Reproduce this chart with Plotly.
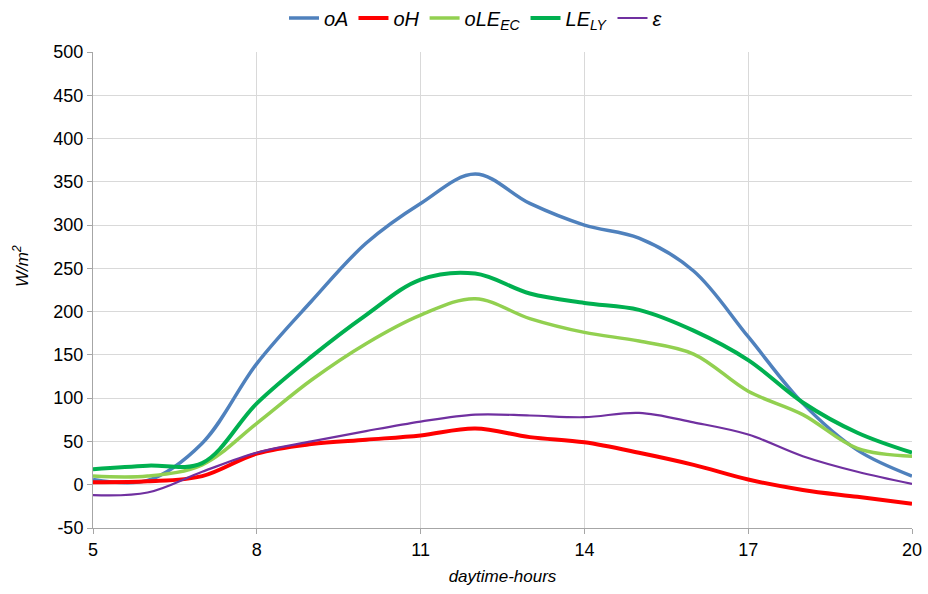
import plotly.graph_objects as go

hours = list(range(5, 21))
oA = [6, 5, 48, 140, 212, 279, 325, 359, 325, 300, 285, 247, 171, 94, 40, 10]
oH = [3, 4, 10, 36, 47, 52, 57, 65, 55, 49, 37, 23, 6, -6, -14, -22]
oLE_EC = [10, 10, 23, 71, 121, 163, 196, 215, 192, 176, 166, 151, 108, 81, 42, 33]
LE_LY = [18, 22, 25, 94, 148, 196, 237, 244, 221, 210, 202, 178, 144, 95, 60, 37]
eps = [-12, -9, 15, 37, 50, 62, 73, 81, 80, 78, 83, 72, 58, 33, 15, 1]

y_ticks = list(range(-50, 501, 50))
y_ticktext = [str(v) for v in y_ticks]
x_ticks = [5, 8, 11, 14, 17, 20]

names = ["<i>oA</i>", "<i>oH</i>", "<i>oLE<sub>EC</sub></i>", "<i>LE<sub>LY</sub></i>", "<i>ε</i>"]
series = [oA, oH, oLE_EC, LE_LY, eps]
colors = ["#4f81bd", "#ff0000", "#92d050", "#00b050", "#7030a0"]
widths = [3.5, 4, 3.5, 4, 2.2]

fig = go.Figure()
for n, s, c, w in zip(names, series, colors, widths):
    fig.add_trace(go.Scatter(x=hours, y=s, name=n, mode="lines",
                             line=dict(color=c, width=w, shape="spline", smoothing=1.0)))

font = "Liberation Sans, Arial, sans-serif"
L, R, T, B = 93, 16, 52, 66
W, H = 928, 594
pw, ph = W - L - R, H - T - B
fig.update_layout(
    width=W, height=H,
    margin=dict(l=L, r=R, t=T, b=B, autoexpand=False),
    paper_bgcolor="white", plot_bgcolor="white",
    font=dict(family=font, size=18, color="#000000"),
    showlegend=True,
    legend=dict(orientation="h", x=476 / W, xanchor="center", y=1 + (T - 18) / ph, yanchor="middle",
                yref="paper", xref="container",
                font=dict(size=20, family=font), itemwidth=30, tracegroupgap=0,
                bgcolor="rgba(0,0,0,0)"),
    xaxis=dict(range=[5, 20], tickmode="array", tickvals=x_ticks,
               showgrid=True, gridcolor="#d9d9d9", gridwidth=1,
               showline=True, linecolor="#a6a6a6", linewidth=1,
               ticks="outside", ticklen=5, tickcolor="#a6a6a6",
               zeroline=False, automargin=False,
               title=dict(text="<i>daytime-hours</i>", font=dict(size=17), standoff=11)),
    yaxis=dict(range=[-50, 500], tickmode="array", tickvals=y_ticks, ticktext=y_ticktext,
               showgrid=True, gridcolor="#d9d9d9", gridwidth=1,
               showline=True, linecolor="#a6a6a6", linewidth=1,
               ticks="outside", ticklen=5, tickcolor="#a6a6a6",
               zeroline=False, automargin=False),
    annotations=[dict(text="<i>W/m<sup>2</sup></i>", textangle=-90, showarrow=False,
                      xref="paper", yref="paper", x=-(L - 21) / pw, y=(H - B - 266) / ph,
                      xanchor="center", yanchor="middle", font=dict(size=17))],
)
fig.write_html("out.html", config={"displayModeBar": False},
               post_script="document.body.style.margin='0';document.body.style.overflow='hidden';")
